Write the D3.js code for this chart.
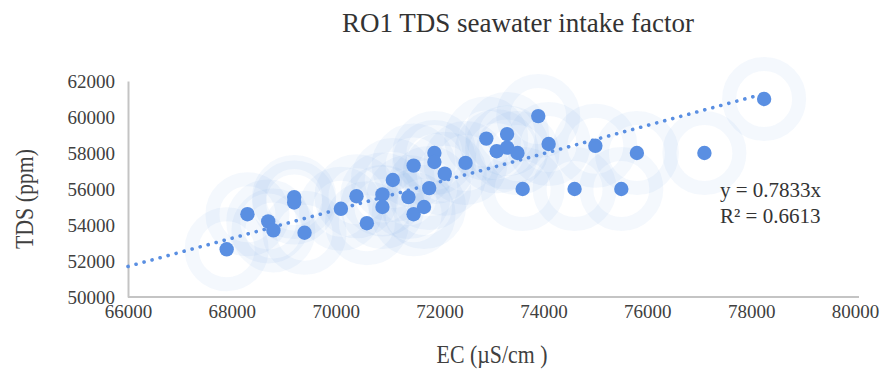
<!DOCTYPE html>
<html>
<head>
<meta charset="utf-8">
<script src="https://cdn.jsdelivr.net/npm/d3@7"></script>
<style>
  body { margin: 0; background: #fff; }
  text { font-family: "Liberation Serif", "DejaVu Serif", serif; }
</style>
</head>
<body>
<div id="root"></div>
<script>
// EC (uS/cm) and TDS (ppm) pairs
const ecValues = [67900, 68300, 68700, 68800, 69200, 69200, 69400, 70100, 70400, 70600,
  70900, 70900, 71100, 71400, 71500, 71500, 71700, 71800, 71900, 71900,
  72100, 72500, 72900, 73100, 73300, 73300, 73500, 73600, 73900, 74100,
  74600, 75000, 75500, 75800, 77100, 78250]
const tdsValues = [52650, 54600, 54200, 53700, 55550, 55250, 53570, 54900, 55600, 54100,
  55700, 55000, 56500, 55550, 57300, 54600, 55000, 56050, 58000, 57500,
  56850, 57450, 58800, 58100, 59050, 58300, 58000, 56000, 60050, 58500,
  56000, 58400, 56000, 58000, 58000, 61000]
const xTicks = [66000, 68000, 70000, 72000, 74000, 76000, 78000, 80000]
const yTicks = [50000, 52000, 54000, 56000, 58000, 60000, 62000]
const slope = 0.7833
const equationLines = ["y = 0.7833x", "R\u00b2 = 0.6613"]
const trendFrom = 66000

const wrapper = { width: 892, height: 372 }
const margin = { top: 81, right: 37, bottom: 75, left: 128 }
const bound = {
  width: wrapper.width - margin.left - margin.right,
  height: wrapper.height - margin.top - margin.bottom
}
const pointColor = "#5a8fe2"

const data = ecValues.map((ec, i) => ({ ec, tds: tdsValues[i] }))

const svg = d3.select("#root")
  .append("svg")
  .attr("width", wrapper.width)
  .attr("height", wrapper.height)

const xScale = d3.scaleLinear().domain([66000, 80000]).range([0, bound.width])
const yScale = d3.scaleLinear().domain([50000, 62000]).range([bound.height, 0])

const Bound = svg.append("g")
  .attr("transform", `translate(${margin.left},${margin.top})`)

// axes: only the two grey lines and the labels
const xAxis = Bound.append("g")
  .attr("transform", `translate(0,${bound.height})`)
  .call(d3.axisBottom(xScale).tickValues(xTicks).tickSize(0).tickPadding(8).tickFormat(d3.format("d")))
const yAxis = Bound.append("g")
  .call(d3.axisLeft(yScale).tickValues(yTicks).tickSize(0).tickPadding(13).tickFormat(d3.format("d")))

for (const ax of [xAxis, yAxis]) {
  ax.select(".domain").attr("stroke", "#c4c4c4").attr("stroke-width", 2)
  ax.selectAll("text")
    .attr("fill", "#404040")
    .style("font-size", "19px")
    .style("font-family", "Liberation Serif, serif")
}
xAxis.select(".domain").attr("d", `M0,0H${bound.width + 4}`)

// big faint halos behind each point
Bound.append("g").selectAll("circle")
  .data(data)
  .join("circle")
  .attr("cx", d => xScale(d.ec))
  .attr("cy", d => yScale(d.tds))
  .attr("r", 35)
  .attr("fill", "none")
  .attr("stroke", pointColor)
  .attr("stroke-width", 14)
  .attr("stroke-opacity", 0.065)

// dotted trend line through the origin
const xMax = d3.max(ecValues)
Bound.append("line")
  .attr("x1", xScale(trendFrom))
  .attr("y1", yScale(trendFrom * slope))
  .attr("x2", xScale(xMax))
  .attr("y2", yScale(xMax * slope))
  .attr("stroke", pointColor)
  .attr("stroke-width", 3.6)
  .attr("stroke-linecap", "round")
  .attr("stroke-dasharray", "0.1 8.2")

Bound.append("g").selectAll("circle")
  .data(data)
  .join("circle")
  .attr("cx", d => xScale(d.ec))
  .attr("cy", d => yScale(d.tds))
  .attr("r", 7.2)
  .attr("fill", pointColor)

// title and axis titles
svg.append("text")
  .attr("x", 518)
  .attr("y", 32)
  .attr("text-anchor", "middle")
  .attr("fill", "#333")
  .style("font-size", "27px")
  .text("RO1 TDS seawater intake factor")

// axis titles are a bit narrower than plain Times, so squeeze them
svg.append("text")
  .attr("transform", "translate(492,363) scale(0.84,1)")
  .attr("text-anchor", "middle")
  .attr("fill", "#404040")
  .style("font-size", "26px")
  .text("EC (\u00b5S/cm )")

svg.append("text")
  .attr("transform", "translate(33,199) rotate(-90) scale(0.84,1)")
  .attr("text-anchor", "middle")
  .attr("fill", "#404040")
  .style("font-size", "26px")
  .text("TDS (ppm)")

const eq = svg.append("text")
  .attr("x", 720)
  .attr("y", 197)
  .attr("fill", "#333")
  .style("font-size", "21px")
eq.selectAll("tspan")
  .data(equationLines)
  .join("tspan")
  .attr("x", 720)
  .attr("dy", (d, i) => i === 0 ? 0 : 26)
  .text(d => d)
</script>
</body>
</html>
